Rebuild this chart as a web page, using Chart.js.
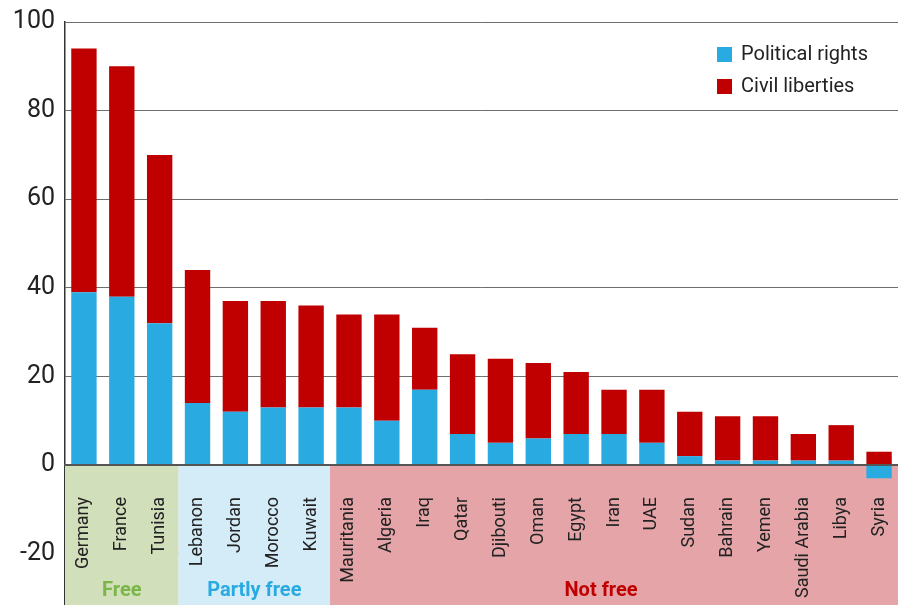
<!DOCTYPE html>
<html>
<head>
<meta charset="utf-8">
<script src="https://cdn.jsdelivr.net/npm/chart.js@4"></script>
<style>
  html, body { margin: 0; padding: 0; background: #fff; }
  #wrap { width: 898px; height: 605px; }
</style>
</head>
<body>
<div id="wrap"><canvas id="barChart"></canvas></div>
<script>
const countries = ['Germany', 'France', 'Tunisia', 'Lebanon', 'Jordan', 'Morocco', 'Kuwait',
  'Mauritania', 'Algeria', 'Iraq', 'Qatar', 'Djibouti', 'Oman', 'Egypt', 'Iran', 'UAE',
  'Sudan', 'Bahrain', 'Yemen', 'Saudi Arabia', 'Libya', 'Syria'];
const politicalRights = [39, 38, 32, 14, 12, 13, 13, 13, 10, 17, 7, 5, 6, 7, 7, 5, 2, 1, 1, 1, 1, -3];
const civilLiberties = [55, 52, 38, 30, 25, 24, 23, 21, 24, 14, 18, 19, 17, 14, 10, 12, 10, 10, 10, 6, 8, 3];
const yTicks = [-20, 0, 20, 40, 60, 80, 100];

// status groups: label and number of countries in each
const groupLabels = ['Free', 'Partly free', 'Not free'];
const groupSizes = [3, 4, 15];
const groupFill = ['#d1dfbb', '#d4ecf8', '#e5a5a8'];
const groupText = ['#7ab648', '#29abe2', '#c00000'];

const font = 'Roboto, "Open Sans", sans-serif';

const statusBands = {
  id: 'statusBands',
  beforeDatasetsDraw(chart) {
    const { ctx, chartArea } = chart;
    const x = chart.scales.x, y = chart.scales.y;
    const zero = y.getPixelForValue(0);
    const half = (x.getPixelForValue(1) - x.getPixelForValue(0)) / 2;
    let start = 0;
    ctx.save();
    groupSizes.forEach((n, i) => {
      const left = i === 0 ? chartArea.left : x.getPixelForValue(start) - half;
      const right = i === groupSizes.length - 1 ? chartArea.right : x.getPixelForValue(start + n - 1) + half;
      ctx.fillStyle = groupFill[i];
      ctx.fillRect(left, zero, right - left, chartArea.bottom - zero);
      ctx.fillStyle = groupText[i];
      ctx.font = 'bold 20px ' + font;
      ctx.textAlign = 'center';
      ctx.textBaseline = 'middle';
      const cx = i === 2 ? (left + right) / 2 - 13 : (left + right) / 2;
      ctx.fillText(groupLabels[i], cx, chartArea.bottom - 14);
      start += n;
    });
    ctx.restore();
  }
};

const cornerLegend = {
  id: 'cornerLegend',
  afterDraw(chart) {
    const { ctx } = chart;
    ctx.save();
    ctx.font = '20px ' + font;
    ctx.textBaseline = 'middle';
    ctx.textAlign = 'left';
    chart.data.datasets.forEach((ds, i) => {
      const cy = 54 + i * 32;
      ctx.fillStyle = ds.backgroundColor;
      ctx.fillRect(717, cy - 7, 15, 15);
      ctx.fillStyle = '#222';
      ctx.fillText(ds.label, 741, cy + 1);
    });
    ctx.restore();
  }
};

function noPadding(scale) {
  scale.paddingLeft = 0;
  scale.paddingRight = 0;
  scale.paddingTop = 0;
  scale.paddingBottom = 0;
}

const bar = document.getElementById('barChart');

new Chart(bar, {
  type: 'bar',
  data: {
    labels: countries,
    datasets: [{
      label: 'Political rights',
      data: politicalRights,
      backgroundColor: '#29abe2',
      borderWidth: 0
    }, {
      label: 'Civil liberties',
      data: civilLiberties,
      backgroundColor: '#c00000',
      borderWidth: 0
    }]
  },
  plugins: [statusBands, cornerLegend],
  options: {
    responsive: true,
    maintainAspectRatio: false,
    animation: false,
    layout: { padding: { top: 22, right: 0, bottom: 0, left: 0 } },
    datasets: { bar: { categoryPercentage: 1, barPercentage: 0.67 } },
    plugins: {
      legend: { display: false },
      tooltip: { enabled: false }
    },
    scales: {
      x: {
        stacked: true,
        position: { y: 0 },
        afterFit(scale) {
          scale.height = 0;
          noPadding(scale);
        },
        grid: { display: false },
        border: { display: true, color: '#555', width: 2, z: 1 },
        ticks: {
          z: 1,
          autoSkip: false,
          minRotation: 90,
          maxRotation: 90,
          padding: 24,
          color: '#222',
          font: { family: font, size: 18 }
        }
      },
      y: {
        stacked: true,
        min: -31.6,
        max: 100,
        afterFit(scale) {
          scale.width = 65;
          noPadding(scale);
        },
        afterBuildTicks(scale) { scale.ticks = yTicks.map(v => ({ value: v })); },
        grid: {
          color: '#6e6e6e',
          lineWidth: 1,
          drawTicks: false
        },
        border: { display: true, color: '#333', width: 1.5 },
        ticks: {
          padding: 10,
          color: '#222',
          font: { family: font, size: 25 }
        }
      }
    }
  }
});
</script>
</body>
</html>
